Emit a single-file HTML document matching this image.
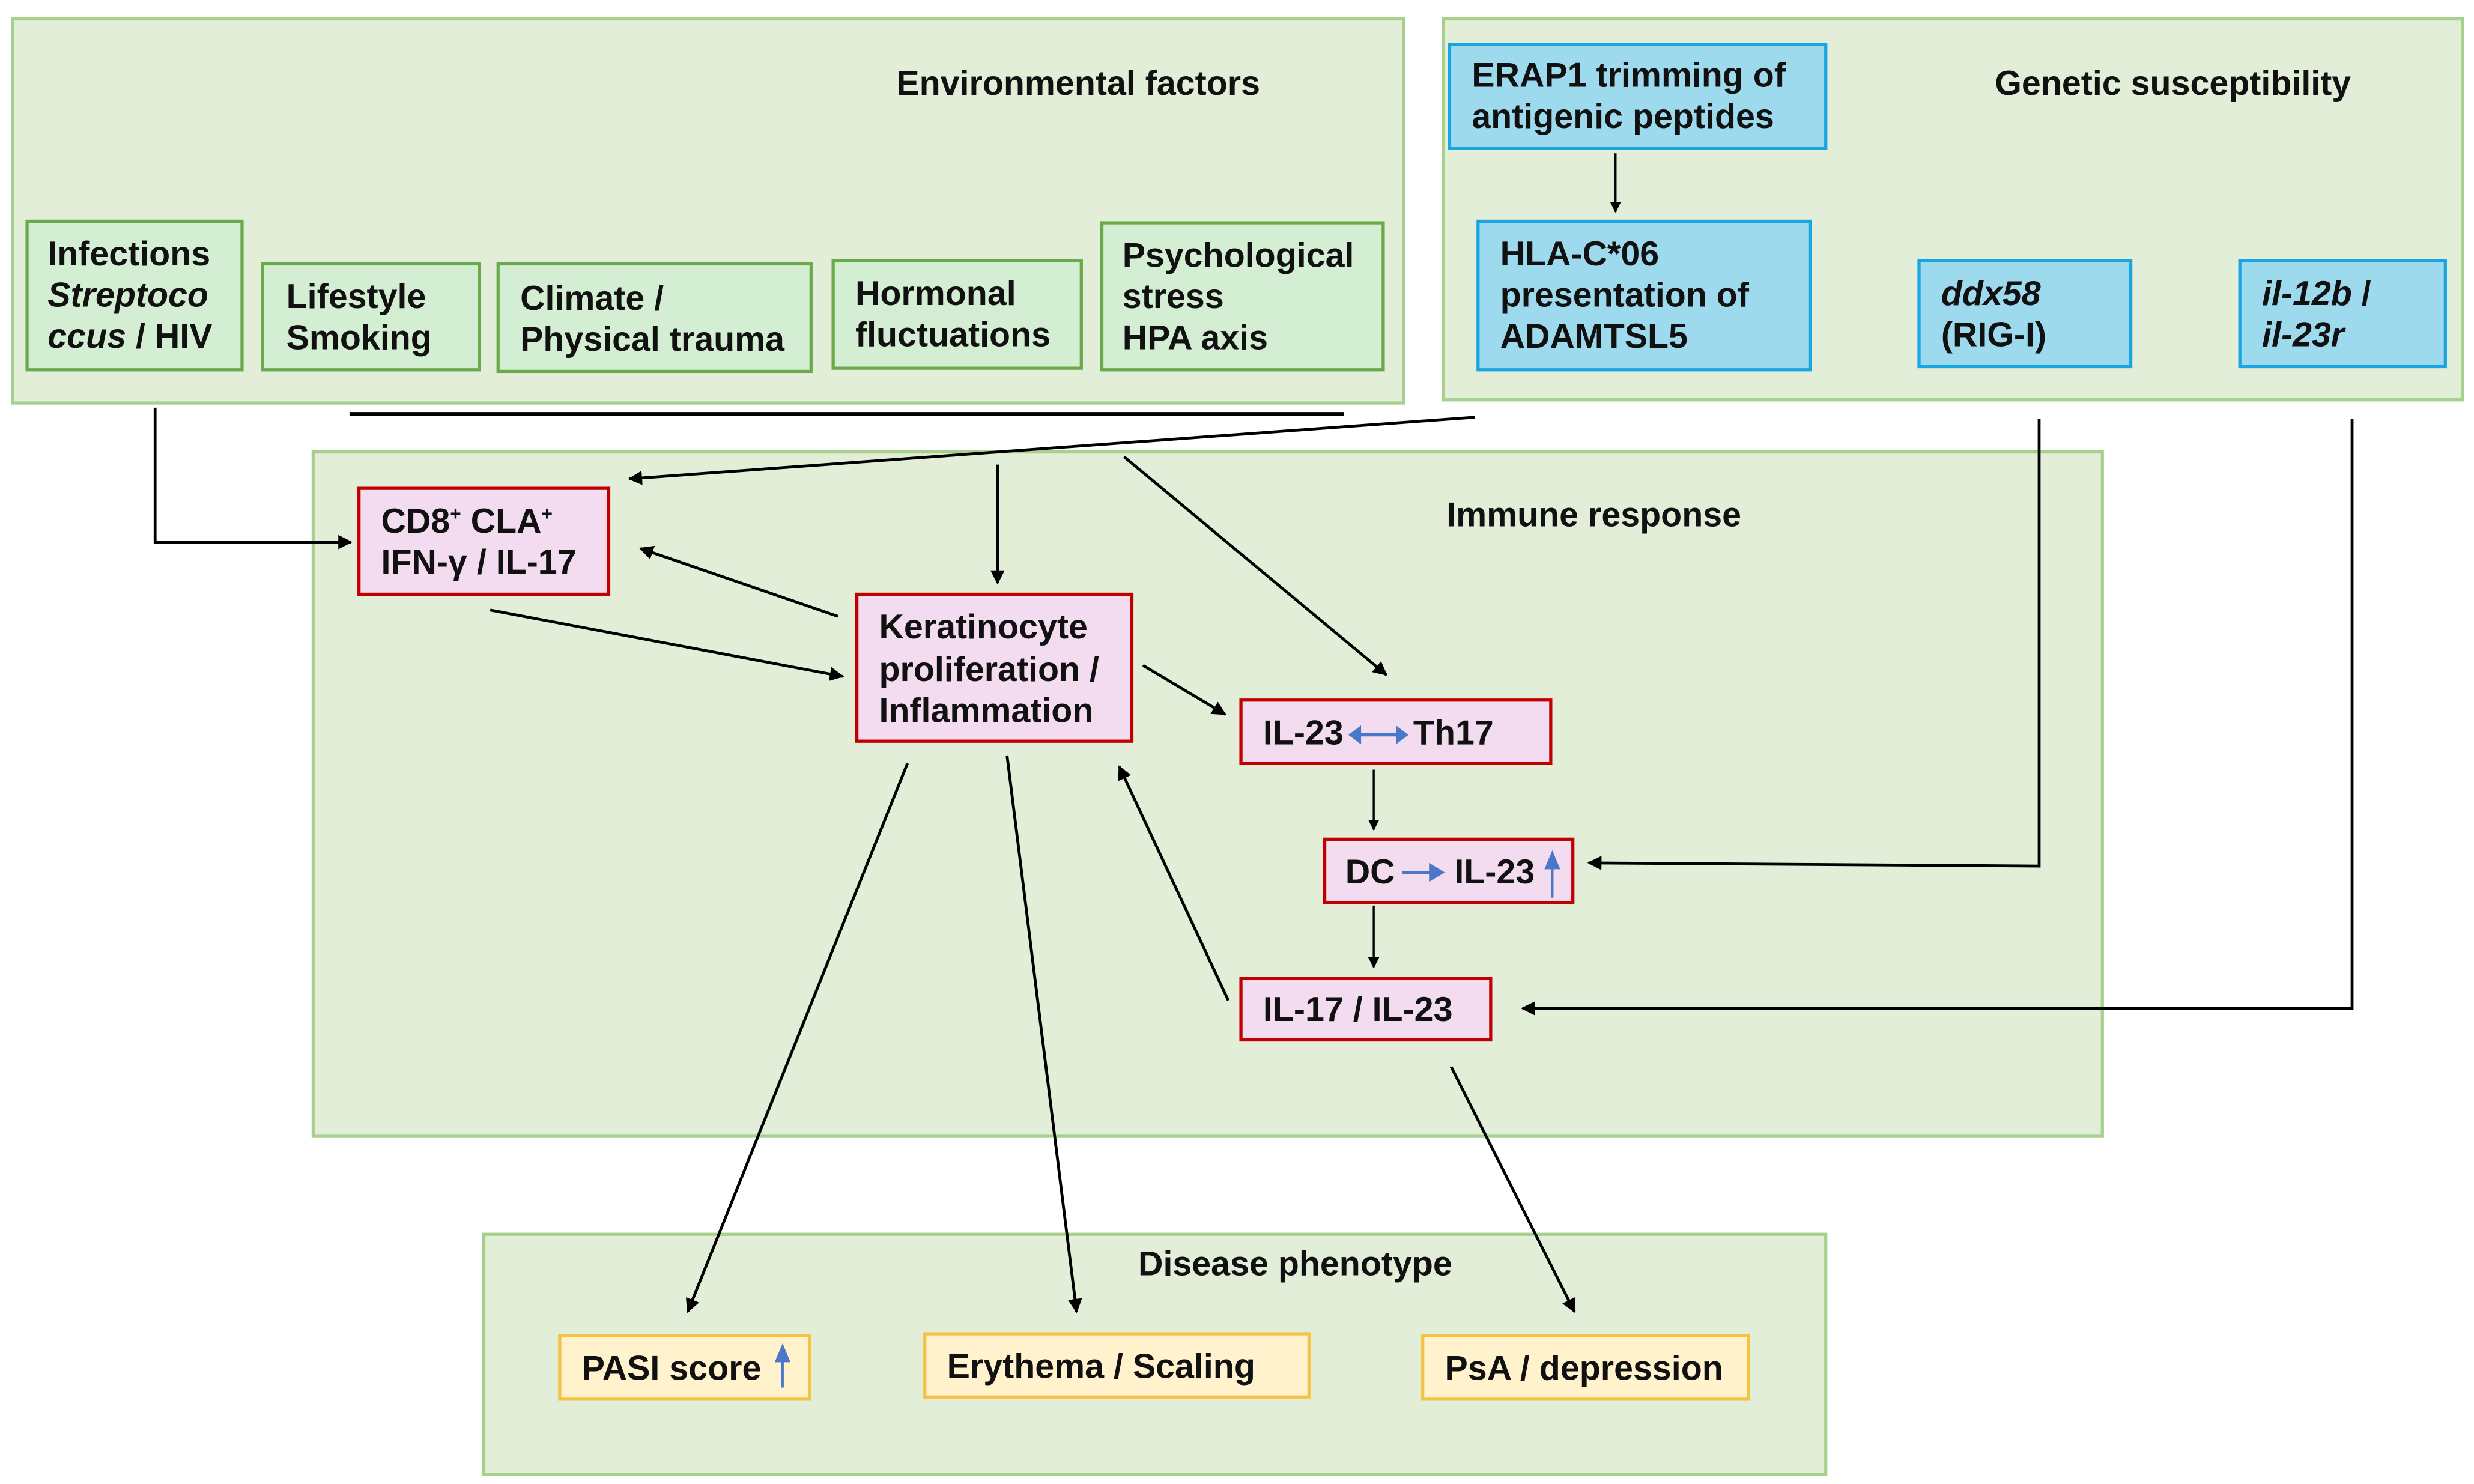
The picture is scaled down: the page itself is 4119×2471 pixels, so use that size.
<!DOCTYPE html>
<html><head><meta charset="utf-8"><style>
html,body{margin:0;padding:0;background:#fff;}
svg{display:block;}
text{font-family:"Liberation Sans",Arial,sans-serif;font-weight:bold;font-size:21.8px;fill:#111;}
</style></head><body>
<svg width="4119" height="2471" viewBox="0 0 1565 939" xmlns="http://www.w3.org/2000/svg">
<defs>
<marker id="a" viewBox="0 0 10 10" refX="9" refY="5" markerWidth="7" markerHeight="7" orient="auto" markerUnits="userSpaceOnUse">
<path d="M0,0 L10,5 L0,10 z" fill="#000"/></marker>
<marker id="a2" viewBox="0 0 10 10" refX="9" refY="5" markerWidth="9" markerHeight="9" orient="auto" markerUnits="userSpaceOnUse">
<path d="M0,0 L10,5 L0,10 z" fill="#000"/></marker>
</defs>
<rect x="8" y="12" width="880" height="243" fill="#e2eed8" stroke="#a8d08d" stroke-width="2"/>
<rect x="913" y="12" width="645" height="241" fill="#e2eed8" stroke="#a8d08d" stroke-width="2"/>
<rect x="198" y="286" width="1132" height="433" fill="#e2eed8" stroke="#a8d08d" stroke-width="2"/>
<rect x="306" y="781" width="849" height="152" fill="#e2eed8" stroke="#a8d08d" stroke-width="2"/>
<text x="567" y="60">Environmental factors</text>
<text x="1262" y="60">Genetic susceptibility</text>
<text x="915" y="333">Immune response</text>
<text x="720" y="807">Disease phenotype</text>
<g fill="#d3eed3" stroke="#6aaa4a" stroke-width="2">
<rect x="17" y="140" width="136" height="94"/>
<rect x="166" y="167" width="137" height="67"/>
<rect x="315" y="167" width="198" height="68"/>
<rect x="527" y="165" width="157" height="68"/>
<rect x="697" y="141" width="178" height="93"/>
</g>
<text x="30" y="168">Infections</text>
<text x="30" y="194"><tspan font-style="italic">Streptoco</tspan></text>
<text x="30" y="220"><tspan font-style="italic">ccus</tspan> / HIV</text>
<text x="181" y="195">Lifestyle</text>
<text x="181" y="221">Smoking</text>
<text x="329" y="196">Climate /</text>
<text x="329" y="222">Physical trauma</text>
<text x="541" y="193">Hormonal</text>
<text x="541" y="219">fluctuations</text>
<text x="710" y="169">Psychological</text>
<text x="710" y="195">stress</text>
<text x="710" y="221">HPA axis</text>
<g fill="#9ddaee" stroke="#19a5e2" stroke-width="2">
<rect x="917" y="28" width="238" height="66"/>
<rect x="935" y="140" width="210" height="94"/>
<rect x="1214" y="165" width="134" height="67"/>
<rect x="1417" y="165" width="130" height="67"/>
</g>
<text x="931" y="55">ERAP1 trimming of</text>
<text x="931" y="81">antigenic peptides</text>
<text x="949" y="168">HLA-C*06</text>
<text x="949" y="194">presentation of</text>
<text x="949" y="220">ADAMTSL5</text>
<text x="1228" y="193" font-style="italic">ddx58</text>
<text x="1228" y="219">(RIG-I)</text>
<text x="1431" y="193"><tspan font-style="italic">il-12b</tspan> /</text>
<text x="1431" y="219" font-style="italic">il-23r</text>
<g fill="#f3dcef" stroke="#c00000" stroke-width="2">
<rect x="227" y="309" width="158" height="67"/>
<rect x="542" y="376" width="174" height="93"/>
<rect x="785" y="443" width="196" height="40"/>
<rect x="838" y="531" width="157" height="40"/>
<rect x="785" y="619" width="158" height="39"/>
</g>
<text x="241" y="337">CD8<tspan font-size="12" dy="-8">+</tspan><tspan dy="8"> CLA</tspan><tspan font-size="12" dy="-8">+</tspan></text>
<text x="241" y="363">IFN-γ / IL-17</text>
<text x="556" y="404">Keratinocyte</text>
<text x="556" y="431">proliferation /</text>
<text x="556" y="457">Inflammation</text>
<text x="799" y="471">IL-23</text>
<path d="M855,465 L889,465" stroke="#4a78c8" stroke-width="2"/>
<path d="M853,465 L861,459 L861,471 z M891,465 L883,459 L883,471 z" fill="#4a78c8"/>
<text x="894" y="471">Th17</text>
<text x="851" y="559">DC</text>
<path d="M887,552 L906,552" stroke="#4a78c8" stroke-width="2"/>
<path d="M914,552 L904,546 L904,558 z" fill="#4a78c8"/>
<text x="920" y="559">IL-23</text>
<path d="M982,568 L982,546" stroke="#4a78c8" stroke-width="1.5"/>
<path d="M982,538 L977,550 L987,550 z" fill="#4a78c8"/>
<text x="799" y="646">IL-17 / IL-23</text>
<g fill="#fff2cc" stroke="#f5c342" stroke-width="2">
<rect x="354" y="845" width="158" height="40"/>
<rect x="585" y="844" width="243" height="40"/>
<rect x="900" y="845" width="206" height="40"/>
</g>
<text x="368" y="873">PASI score</text>
<path d="M495,878 L495,858" stroke="#4a78c8" stroke-width="1.5"/>
<path d="M495,850 L490,862 L500,862 z" fill="#4a78c8"/>
<text x="599" y="872">Erythema / Scaling</text>
<text x="914" y="873">PsA / depression</text>
<g stroke="#000" stroke-width="1.8" fill="none">
<path d="M221,262 L850,262" stroke-width="2.5"/>
<path d="M933,264 L398,303" marker-end="url(#a2)"/>
<path d="M98,258 L98,343 L222,343" marker-end="url(#a2)"/>
<path d="M631,294 L631,369" marker-end="url(#a2)"/>
<path d="M711,289 L877,427" marker-end="url(#a2)"/>
<path d="M530,390 L405,347" marker-end="url(#a2)"/>
<path d="M310,386 L533,428" marker-end="url(#a2)"/>
<path d="M723,421 L775,452" marker-end="url(#a2)"/>
<path d="M869,487 L869,525" stroke-width="1.3" marker-end="url(#a)"/>
<path d="M869,573 L869,612" stroke-width="1.3" marker-end="url(#a)"/>
<path d="M777,633 L708,485" marker-end="url(#a2)"/>
<path d="M1290,265 L1290,548 L1005,546" marker-end="url(#a2)"/>
<path d="M1488,265 L1488,638 L963,638" marker-end="url(#a2)"/>
<path d="M574,483 L435,830" marker-end="url(#a2)"/>
<path d="M637,478 L681,830" marker-end="url(#a2)"/>
<path d="M918,675 L996,830" marker-end="url(#a2)"/>
<path d="M1022,97 L1022,134" stroke-width="1.3" marker-end="url(#a)"/>
</g>
</svg>
</body></html>
